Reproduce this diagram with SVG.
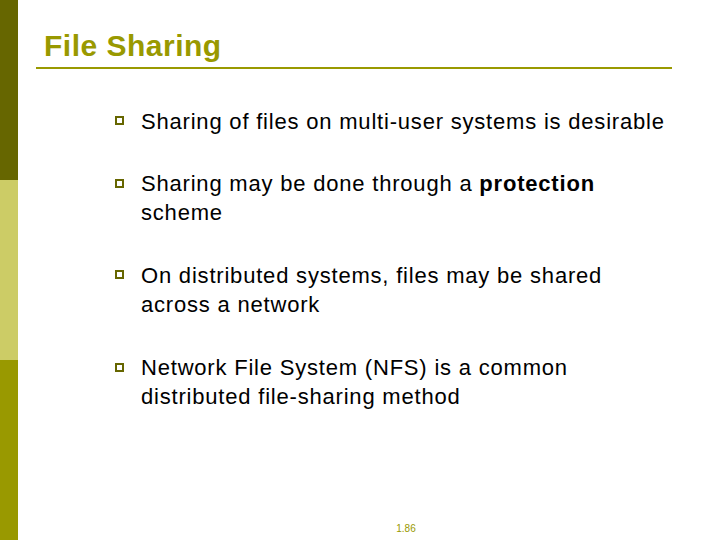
<svg xmlns="http://www.w3.org/2000/svg" width="720" height="540" viewBox="0 0 720 540">
<style>
.t{font-family:"Liberation Sans",Arial,sans-serif;font-size:22px;letter-spacing:0.8px;fill:#000}
.b{fill:none;stroke:#666600;stroke-width:2}
</style>
<rect width="720" height="540" fill="#fff"/>
<rect x="0" y="0" width="18" height="180" fill="#666600"/>
<rect x="0" y="180" width="18" height="180" fill="#CCCC66"/>
<rect x="0" y="360" width="18" height="180" fill="#999900"/>
<text x="44" y="56" style="font-family:'Liberation Sans',Arial,sans-serif;font-size:30px;letter-spacing:0.5px;font-weight:bold;fill:#999900">File Sharing</text>
<line x1="36" y1="68" x2="672" y2="68" stroke="#999900" stroke-width="2"/>
<g id="b1"><rect class="b" x="116" y="117" width="7" height="7"/><text class="t" x="141" y="129">Sharing of files on multi-user systems is desirable</text></g>
<g id="b2"><rect class="b" x="116" y="180" width="7" height="7"/><text class="t" x="141" y="191">Sharing may be done through a <tspan font-weight="bold">protection</tspan></text><text class="t" x="141" y="220">scheme</text></g>
<g id="b3"><rect class="b" x="116" y="271" width="7" height="7"/><text class="t" x="141" y="283">On distributed systems, files may be shared</text><text class="t" x="141" y="312">across a network</text></g>
<g id="b4"><rect class="b" x="116" y="364" width="7" height="7"/><text class="t" x="141" y="375">Network File System (NFS) is a common</text><text class="t" x="141" y="404">distributed file-sharing method</text></g>
<text x="406" y="532" text-anchor="middle" style="font-family:'Liberation Sans',Arial,sans-serif;font-size:10px;fill:#999900">1.86</text>
</svg>
